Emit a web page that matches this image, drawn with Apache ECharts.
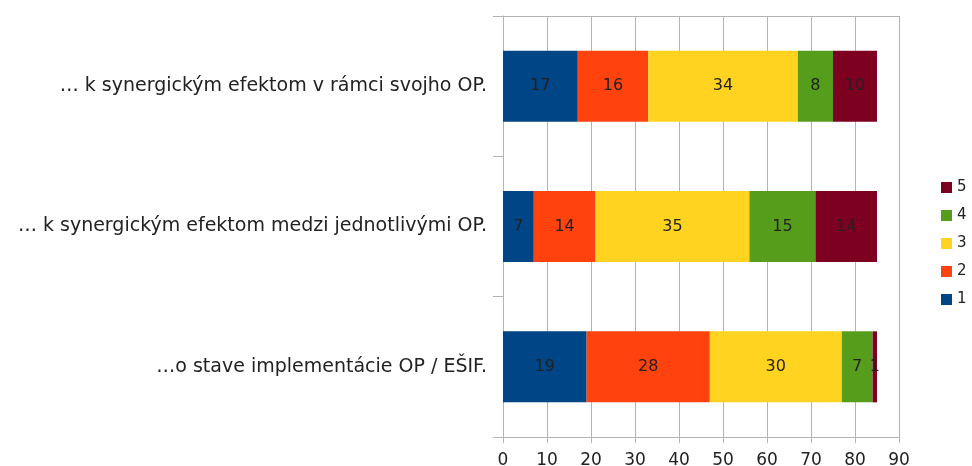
<!DOCTYPE html>
<html>
<head>
<meta charset="utf-8">
<script src="https://cdn.jsdelivr.net/npm/echarts@6/dist/echarts.min.js"></script>
<style>
  html, body { margin: 0; padding: 0; background: #fff; }
  #container { width: 972px; height: 466px; }
</style>
</head>
<body>
<div id="container"></div>
<script>
// kategórie zhora nadol
const categories = [
  '… k synergickým efektom v rámci svojho OP.',
  '… k synergickým efektom medzi jednotlivými OP.',
  '…o stave implementácie OP / EŠIF.'
];
const seriesNames = ['1', '2', '3', '4', '5'];
const s1 = [17, 7, 19];
const s2 = [16, 14, 28];
const s3 = [34, 35, 30];
const s4 = [8, 15, 7];
const s5 = [10, 14, 1];
const xTicks = [0, 90, 10];
const colors = ['#004586', '#ff420e', '#ffd320', '#579d1c', '#7e0021'];

const values = [s1, s2, s3, s4, s5];
const font = 'DejaVu Sans, sans-serif';

const myChart = echarts.init(document.getElementById('container'), null, { renderer: 'canvas' });

const option = {
  animation: false,
  grid: { left: 503, right: 73, top: 16, bottom: 29, containLabel: false, outerBoundsMode: 'none' },
  legend: {
    orient: 'vertical',
    left: 936,
    top: 175,
    itemWidth: 11,
    itemHeight: 11,
    itemGap: 13,
    icon: 'rect',
    data: seriesNames.slice().reverse(),
    textStyle: { fontFamily: font, fontSize: 15, color: '#222' }
  },
  xAxis: [
    {
      type: 'value',
      min: xTicks[0],
      max: xTicks[1],
      interval: xTicks[2],
      axisLine: { show: true, lineStyle: { color: '#b3b3b3' } },
      axisTick: { show: true, length: 6, lineStyle: { color: '#b3b3b3' } },
      splitLine: { show: true, lineStyle: { color: '#b3b3b3' } },
      axisLabel: { margin: 15, fontFamily: font, fontSize: 17, color: '#222' }
    },
    {
      type: 'value',
      position: 'top',
      min: xTicks[0],
      max: xTicks[1],
      interval: xTicks[2],
      axisLine: { show: true, lineStyle: { color: '#b3b3b3' } },
      axisTick: { show: false },
      splitLine: { show: false },
      axisLabel: { show: false }
    }
  ],
  yAxis: {
    type: 'category',
    inverse: true,
    data: categories,
    axisLine: { show: true, lineStyle: { color: '#b3b3b3' } },
    axisTick: { show: true, length: 10, lineStyle: { color: '#b3b3b3' } },
    axisLabel: { margin: 16, fontFamily: font, fontSize: 19, color: '#222' }
  },
  series: seriesNames.map((name, i) => ({
    name: name,
    type: 'bar',
    stack: 'total',
    barWidth: 71,
    data: values[i],
    itemStyle: { color: colors[i] },
    label: {
      show: true,
      position: 'inside',
      fontFamily: font,
      fontSize: 16,
      color: '#222'
    }
  }))
};

myChart.setOption(option);
window.addEventListener('resize', () => myChart.resize());
</script>
</body>
</html>
